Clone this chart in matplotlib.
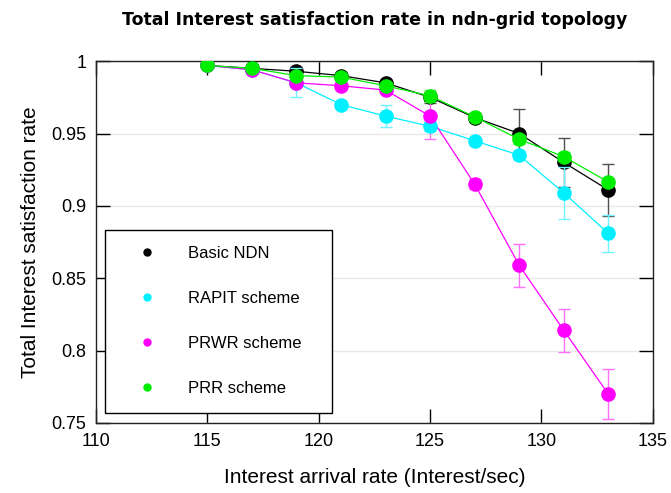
import matplotlib.pyplot as plt
from matplotlib.lines import Line2D

# Datos
tasa = [115, 117, 119, 121, 123, 125, 127, 129, 131, 133]

basic_ndn = [0.997, 0.995, 0.993, 0.990, 0.985, 0.975, 0.961, 0.950, 0.930, 0.911]
basic_err = [0.001, 0.002, 0.003, 0.002, 0.002, 0.004, 0.003, 0.017, 0.017, 0.018]

rapit = [0.997, 0.994, 0.985, 0.970, 0.962, 0.955, 0.945, 0.935, 0.909, 0.881]
rapit_err = [0.001, 0.002, 0.010, 0.002, 0.0075, 0.003, 0.002, 0.003, 0.018, 0.013]

prwr = [0.997, 0.994, 0.985, 0.983, 0.980, 0.962, 0.915, 0.859, 0.814, 0.770]
prwr_err = [0.001, 0.002, 0.002, 0.002, 0.002, 0.016, 0.0035, 0.015, 0.015, 0.017]

prr = [0.997, 0.995, 0.990, 0.989, 0.983, 0.976, 0.9615, 0.946, 0.934, 0.9165]
prr_err = [0.001, 0.001, 0.002, 0.002, 0.002, 0.004, 0.002, 0.003, 0.003, 0.003]

etiquetas = ["Basic NDN", "RAPIT scheme", "PRWR scheme", "PRR scheme"]
colores = ["black", "#00f0ff", "#ff00ff", "#00ee00"]
colores_err = ["#505050", "#70f4ff", "#ff70ff", "#60ee60"]

plt.rcParams['font.family'] = ['Liberation Sans', 'DejaVu Sans']

fig = plt.figure(figsize=(6.71, 4.93), dpi=100)
ax = fig.add_axes([0.143, 0.142, 0.830, 0.734])

series = [(basic_ndn, basic_err), (prwr, prwr_err), (rapit, rapit_err), (prr, prr_err)]
orden = [0, 2, 1, 3]
for k, (vals, errs) in zip(orden, series):
    ax.plot(tasa, vals, color=colores[k], lw=0.9, zorder=2 + k)
    ax.errorbar(tasa, vals, yerr=errs, fmt='none', ecolor=colores_err[k],
                elinewidth=1, capsize=4, capthick=1, zorder=2 + k)
    ax.plot(tasa, vals, 'o', color=colores[k], ms=9.5, zorder=3 + k)

ax.set_xlim(110, 135)
ax.set_ylim(0.75, 1.0)
ax.set_xticks([110, 115, 120, 125, 130, 135])
ax.set_yticks([0.75, 0.8, 0.85, 0.9, 0.95, 1.0])
ax.set_yticklabels(["0.75", "0.8", "0.85", "0.9", "0.95", "1"])
ax.grid(axis='y', color='#e8e8e8', lw=1)
ax.set_axisbelow(True)
ax.tick_params(direction='in', length=10, width=1, top=True, right=True,
               labelsize=13, pad=7)
for s in ax.spines.values():
    s.set_linewidth(1)
    s.set_color('#222222')

ax.set_xlabel('Interest arrival rate (Interest/sec)', fontsize=15, labelpad=13)
ax.set_ylabel('Total Interest satisfaction rate', fontsize=15, labelpad=8)
ax.set_title('Total Interest satisfaction rate in ndn-grid topology',
             fontsize=12.5, fontweight='bold', family='DejaVu Sans', pad=26)

manejadores = [Line2D([], [], ls='none', marker='o', ms=5, color=c) for c in colores]
leg = ax.legend(manejadores, etiquetas, loc='lower left',
                bbox_to_anchor=(0.016, 0.028, 0.408, 0.5), mode='expand',
                borderaxespad=0, fontsize=12, borderpad=1.0, handlelength=3,
                handletextpad=1.0, labelspacing=1.8, fancybox=False,
                framealpha=1, edgecolor='black')
leg.get_frame().set_linewidth(1)

plt.savefig('out.png', dpi=100)
